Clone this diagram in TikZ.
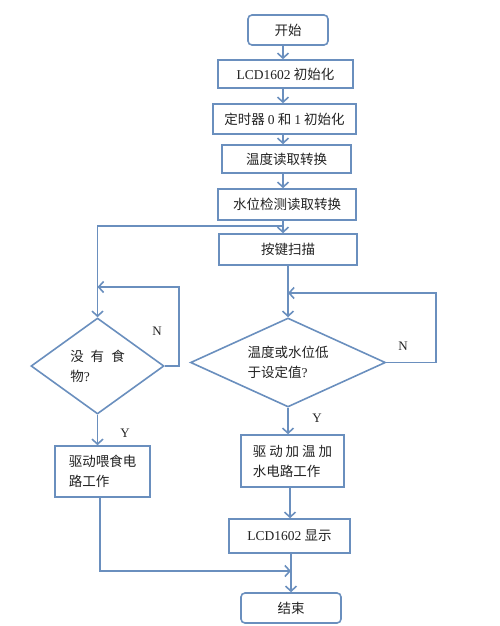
\documentclass[tikz,border=0pt]{standalone}
\usepackage{fontspec}
\setmainfont{Liberation Serif}
\newfontfamily\cjk{Noto Sans CJK SC}
\usetikzlibrary{arrows.meta,shapes.geometric}
\definecolor{ln}{RGB}{106,143,190}
\definecolor{tx}{RGB}{35,35,35}
\begin{document}
\begin{tikzpicture}[x=1pt,y=-1pt,
  box/.style={draw=ln,line width=1.6pt,fill=white,inner sep=0pt,text=tx,
    font=\fontsize{13.5}{20}\selectfont\cjk},
  dia/.style={diamond,draw=ln,line width=1.6pt,fill=white,inner sep=0pt,text=tx,align=left,
    font=\fontsize{13.5}{20}\selectfont\cjk},
  lbl/.style={text=tx,font=\fontsize{13}{15}\selectfont},
  arr/.style={draw=ln,line width=1.6pt,-{Straight Barb[length=5pt,width=11pt]}}]
\useasboundingbox (0,0) rectangle (500,626);
\coordinate (cx) at (283,0);
\coordinate (cx2) at (290,0);
\coordinate (cx3) at (291,0);
\coordinate (j1) at (283,226);
\coordinate (l1) at (97.5,226);
\coordinate (n1) at (179,287);
\coordinate (n2) at (436,293);
\coordinate (j2) at (100,571);

\node[box,rounded corners=4pt,minimum width=80pt,minimum height=30pt] (start) at (288,30) {开始};
\node[box,minimum width=135pt,minimum height=28pt] (lcdi) at (285.5,74) {{\rmfamily LCD1602} 初始化};
\node[box,minimum width=143pt,minimum height=30pt] (tim) at (284.5,119) {定时器 {\rmfamily 0} 和 {\rmfamily 1} 初始化};
\node[box,minimum width=129pt,minimum height=28pt] (temp) at (286.5,159) {温度读取转换};
\node[box,minimum width=138pt,minimum height=31pt] (lvl) at (287,204.5) {水位检测读取转换};
\node[box,minimum width=138pt,minimum height=31pt] (key) at (288,249.5) {按键扫描};
\node[dia,aspect=1.385,minimum width=133pt,minimum height=96pt] (d1) at (97.5,366) {没\hspace{7pt}有\hspace{7pt}食\\物{\rmfamily ?}};
\node[dia,aspect=2.19,minimum width=195pt,minimum height=89pt] (d2) at (288,362.5) {温度或水位低\\于设定值{\rmfamily ?}};
\node[box,align=left,minimum width=95pt,minimum height=51pt] (feed) at (102.5,471.5) {驱动喂食电\\路工作};
\node[box,align=left,minimum width=103pt,minimum height=52pt] (heat) at (292.5,461) {驱\hspace{3pt}动\hspace{3pt}加\hspace{3pt}温\hspace{3pt}加\\水电路工作};
\node[box,minimum width=121pt,minimum height=34pt] (lcds) at (289.5,536) {{\rmfamily LCD1602} 显示};
\node[box,rounded corners=4pt,minimum width=100pt,minimum height=30pt] (end) at (291,608) {结束};

\node[lbl] (nl1) at (157,331) {N};
\node[lbl] (nl2) at (403,346) {N};
\node[lbl] (yl1) at (125,433) {Y};
\node[lbl] (yl2) at (317,418) {Y};

\draw[arr] (start.south -| cx) -- (lcdi.north -| cx);
\draw[arr] (lcdi.south -| cx) -- (tim.north -| cx);
\draw[arr] (tim.south -| cx) -- (temp.north -| cx);
\draw[arr] (temp.south -| cx) -- (lvl.north -| cx);
\draw[arr] (lvl.south -| cx) -- (key.north -| cx);
\draw[arr] (j1) -- (l1) -- (d1.north);
\draw[arr] (d1.east) -- (n1 |- d1.east) -- (n1) -- (n1 -| d1.north);
\draw[arr] (key.south) -- (d2.north);
\draw[arr] (d2.east) -- (n2 |- d2.east) -- (n2) -- (n2 -| d2.north);
\draw[arr] (d1.south) -- (feed.north -| d1.south);
\draw[arr] (d2.south) -- (heat.north -| d2.south);
\draw[arr] (heat.south -| cx2) -- (lcds.north -| cx2);
\draw[arr] (lcds.south -| cx3) -- (end.north -| cx3);
\draw[arr] (feed.south -| j2) -- (j2) -- (j2 -| cx3);
\end{tikzpicture}
\end{document}
